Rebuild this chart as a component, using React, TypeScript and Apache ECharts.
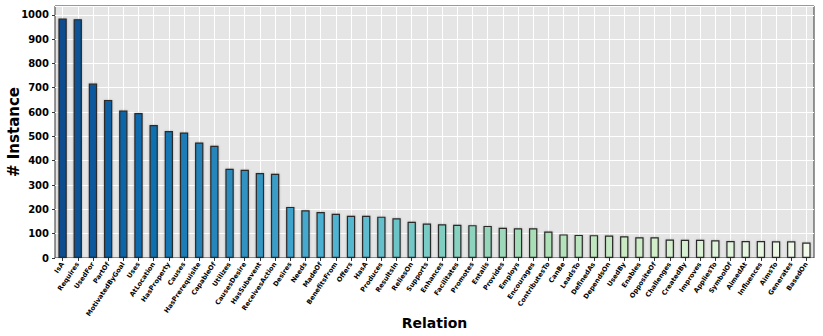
import React, { useEffect, useRef } from "react";
import * as echarts from "echarts";

const relations = [
  "IsA", "Requires", "UsedFor", "PartOf", "MotivatedByGoal", "Uses", "AtLocation", "HasProperty",
  "Causes", "HasPrerequisite", "CapableOf", "Utilizes", "CausesDesire", "HasSubevent", "ReceivesAction",
  "Desires", "Needs", "MadeOf", "BenefitsFrom", "Offers", "HasA", "Produces", "ResultsIn", "ReliesOn",
  "Supports", "Enhances", "Facilitates", "Promotes", "Entails", "Provides", "Employs", "Encourages",
  "ContributesTo", "CanBe", "LeadsTo", "DefinedAs", "DependsOn", "UsedBy", "Enables", "OppositeOf",
  "Challenges", "CreatedBy", "Improves", "AppliesTo", "SymbolOf", "AimedAt", "Influences", "AimsTo",
  "Generates", "BasedOn",
];

const instances = [
  985, 982, 717, 650, 606, 596, 547, 522,
  516, 475, 461, 367, 363, 349, 346,
  210, 196, 189, 182, 174, 174, 170, 163, 149,
  142, 139, 137, 135, 132, 124, 122, 122,
  109, 97, 95, 94, 92, 89, 85, 85,
  76, 75, 75, 73, 70, 70, 70, 69,
  69, 64,
];

const yTicks = [0, 100, 200, 300, 400, 500, 600, 700, 800, 900, 1000];

// GnBu colormap stops
const gnbu = ["#f7fcf0", "#e0f3db", "#ccebc5", "#a8ddb5", "#7bccc4", "#4eb3d3", "#2b8cbe", "#0868ac", "#084081"];

function hexToRgb(h: string) {
  return [parseInt(h.slice(1, 3), 16), parseInt(h.slice(3, 5), 16), parseInt(h.slice(5, 7), 16)];
}
function cmap(t: number) {
  const p = t * (gnbu.length - 1);
  const i = Math.min(Math.floor(p), gnbu.length - 2);
  const f = p - i;
  const a = hexToRgb(gnbu[i]);
  const b = hexToRgb(gnbu[i + 1]);
  const c = a.map((v, k) => Math.round(v + (b[k] - v) * f));
  return `rgb(${c[0]},${c[1]},${c[2]})`;
}

export default function App() {
  const ref = useRef<HTMLDivElement>(null);
  useEffect(() => {
    if (!ref.current) return;
    const chart = echarts.init(ref.current, null, { renderer: "svg" });
    const n = relations.length;
    const font = "DejaVu Sans";
    chart.setOption({
      animation: false,
      textStyle: { fontFamily: font },
      grid: {
        left: 55,
        right: 9,
        top: 6,
        bottom: 78,
        containLabel: false,
        outerBoundsMode: "none",
        show: true,
        backgroundColor: "#e5e5e5",
        borderColor: "#333333",
        borderWidth: 1,
      },
      xAxis: {
        type: "category",
        data: relations,
        boundaryGap: true,
        name: "Relation",
        nameLocation: "middle",
        nameGap: 58,
        nameMoveOverlap: false,
        nameTextStyle: { fontFamily: font, fontWeight: "bold", fontSize: 14, color: "#000" },
        axisLine: { show: false },
        axisTick: { show: true, alignWithLabel: true, length: 3, lineStyle: { color: "#333" } },
        axisLabel: {
          interval: 0,
          rotate: 56,
          fontSize: 6.6,
          fontWeight: "bold",
          color: "#000",
          margin: 5,
          fontFamily: font,
        },
        splitLine: { show: true, alignWithLabel: true, lineStyle: { color: "#ffffff", width: 1 } },
      },
      yAxis: {
        type: "value",
        min: 0,
        max: 1036,
        interval: 100,
        name: "# Instance",
        nameLocation: "middle",
        nameGap: 34,
        nameMoveOverlap: false,
        nameTextStyle: { fontFamily: font, fontWeight: "bold", fontSize: 15, color: "#000" },
        axisLine: { show: false },
        axisTick: { show: true, length: 3, lineStyle: { color: "#333" } },
        axisLabel: {
          fontSize: 10,
          fontWeight: "bold",
          color: "#000",
          margin: 6,
          fontFamily: font,
          showMaxLabel: false,
          formatter: (v: number) => (yTicks.includes(v) ? String(v) : ""),
        },
        splitLine: { show: true, lineStyle: { color: "#ffffff", width: 1 } },
      },
      series: [
        {
          type: "bar",
          barWidth: "55%",
          data: instances.map((v, i) => ({
            value: v,
            itemStyle: {
              color: cmap(0.96 - (0.93 * i) / (n - 1)),
              borderColor: "#2a2a2a",
              borderWidth: 1.2,
              shadowColor: "rgba(0,0,0,0.25)",
              shadowBlur: 2,
            },
          })),
        },
      ],
    });
    return () => chart.dispose();
  }, []);
  return <div ref={ref} style={{ width: 823, height: 336, position: "absolute", left: 0, top: 0 }} />;
}
